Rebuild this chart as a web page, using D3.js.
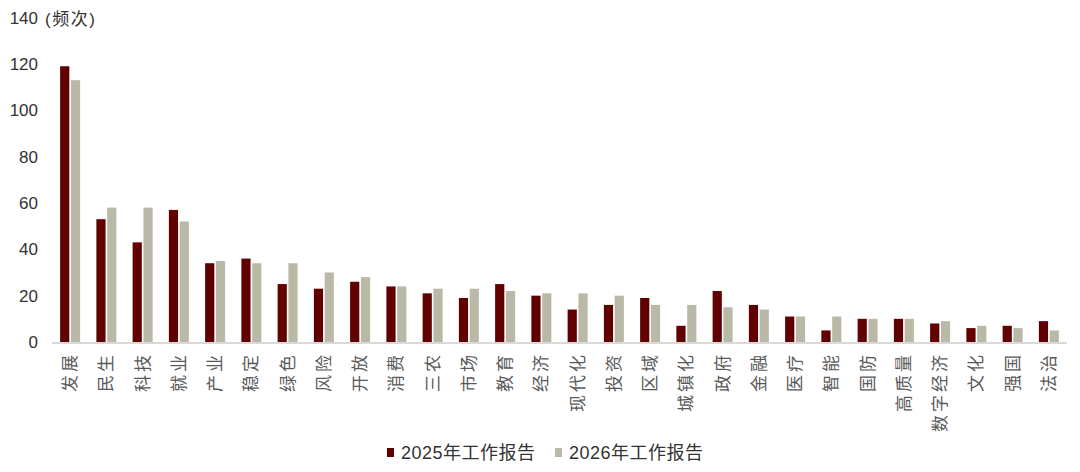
<!DOCTYPE html>
<html><head><meta charset="utf-8">
<script src="https://cdn.jsdelivr.net/npm/d3@7/dist/d3.min.js"></script>
<style>
html,body{margin:0;padding:0;background:#fff;}
svg{display:block;font-family:"Liberation Sans","Noto Sans CJK SC",Arial,sans-serif;}
</style></head>
<body><svg id="chart" width="1080" height="472"></svg>
<script>
const categories = ["发展","民生","科技","就业","产业","稳定","绿色","风险","开放","消费","三农","市场","教育","经济","现代化","投资","区域","城镇化","政府","金融","医疗","智能","国防","高质量","数字经济","文化","强国","法治"];
const series2025 = [119,53,43,57,34,36,25,23,26,24,21,19,25,20,14,16,19,7,22,16,11,5,10,10,8,6,7,9];
const series2026 = [113,58,58,52,35,34,34,30,28,24,23,23,22,21,21,20,16,16,15,14,11,11,10,10,9,7,6,5];
const seriesNames = ["2025年工作报告","2026年工作报告"];
const seriesColors = ["#600000","#bab9a8"];
const yTicks = [0,20,40,60,80,100,120,140];
const unitLabel = "(频次)";

const svg = d3.select("#chart");
const x0 = d3.scaleBand().domain(categories).range([52,1067]).padding(0);
const bw = x0.bandwidth();
const x1 = d3.scaleBand().domain(seriesNames).range([bw/2-10, bw/2+10]).paddingInner(0.15);
const y = d3.scaleLinear().domain([0,140]).range([342,17.6]);

// y axis
const yAxis = svg.append("g").attr("transform","translate(38,0)")
  .call(d3.axisLeft(y).tickValues(yTicks).tickSize(0).tickPadding(0));
yAxis.select(".domain").remove();
yAxis.selectAll("text").attr("font-size",17).attr("fill","#333")
  .attr("font-family","'Liberation Sans',Arial,sans-serif");

svg.append("text").attr("x",45).attr("y",y(140)+2).attr("dy","0.32em")
  .attr("font-size",17).attr("letter-spacing",1.5).attr("fill","#333").text(unitLabel);

// bars
const data = categories.map((c,i)=>({cat:c, vals:[series2025[i],series2026[i]]}));
const g = svg.append("g");
const groups = g.selectAll("g.grp").data(data).join("g")
  .attr("transform",d=>`translate(${x0(d.cat)},0)`);
groups.selectAll("rect").data(d=>d.vals.map((v,k)=>({name:seriesNames[k],v,k}))).join("rect")
  .attr("x",d=>x1(d.name)).attr("width",x1.bandwidth())
  .attr("y",d=>y(d.v)).attr("height",d=>y(0)-y(d.v))
  .attr("fill",d=>seriesColors[d.k]);

// baseline
svg.append("line").attr("x1",52).attr("x2",1067).attr("y1",y(0)+1).attr("y2",y(0)+1)
  .attr("stroke","#d9d9d9").attr("stroke-width",2);

// category labels
svg.append("g").selectAll("text").data(categories).join("text")
  .attr("transform",d=>`translate(${x0(d)+bw/2},352) rotate(-90)`)
  .attr("text-anchor","end").attr("dy","0.35em")
  .attr("font-size",17).attr("letter-spacing",3).attr("fill","#595959")
  .attr("font-family","'Noto Sans CJK SC',sans-serif")
  .text(d=>d);

// legend
const leg = svg.append("g");
const legX = [387, 555];
seriesNames.forEach((n,k)=>{
  leg.append("rect").attr("x",legX[k]).attr("y",448).attr("width",7).attr("height",9).attr("fill",seriesColors[k]);
  leg.append("text").attr("x",legX[k]+14).attr("y",453).attr("dy","0.35em")
    .attr("font-size",18).attr("letter-spacing",0.5).attr("fill","#333").text(n);
});
</script></body></html>
